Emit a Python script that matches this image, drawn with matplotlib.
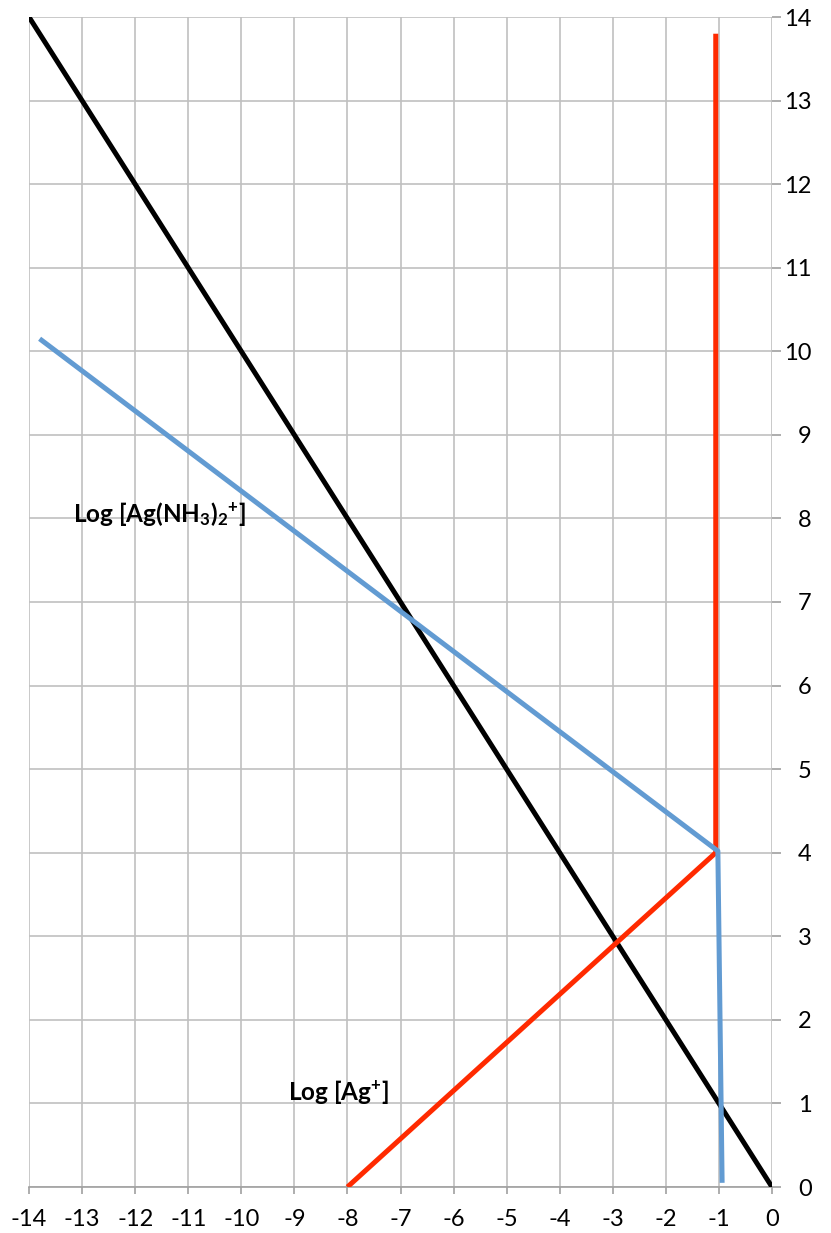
import matplotlib.pyplot as plt

plt.rcParams["font.family"] = ["Lato", "DejaVu Sans"]
plt.rcParams["axes.unicode_minus"] = False

# log [OH-] vs pH style line (slope -1)
oh_x = [-14, 0]
oh_y = [14, 0]

# log [Ag+]
ag_x = [-8, -1.06, -1.06]
ag_y = [0, 4.0, 13.8]

# log [Ag(NH3)2+]
cx_x = [-13.8, -1.02, -0.94]
cx_y = [10.15, 4.02, 0.05]

x_ticks = list(range(-14, 1))
y_ticks = list(range(0, 15))

fig = plt.figure(figsize=(8.31, 12.33), dpi=100)
ax = fig.add_axes([29 / 831, 46 / 1233, 743 / 831, 1170 / 1233])

ax.plot(oh_x, oh_y, color="black", lw=3.6, solid_capstyle="butt", zorder=3)
ax.plot(ag_x, ag_y, color="#ff2a00", lw=3.6, solid_capstyle="butt", zorder=4)
ax.plot(cx_x, cx_y, color="#629bd2", lw=3.6, solid_capstyle="butt", zorder=5)

ax.text(-13.17, 8.05, r"Log [Ag(NH$\mathregular{_3}$)$\mathregular{_2}$$\mathregular{^{+}}$]",
        fontsize=17.5, fontweight="bold", va="center", ha="left")
ax.text(-9.12, 1.14, r"Log [Ag$\mathregular{^{+}}$]",
        fontsize=17.5, fontweight="bold", va="center", ha="left")

ax.set_xlim(-14, 0)
ax.set_ylim(0, 14)
ax.set_xticks(x_ticks)
ax.set_yticks(y_ticks)
ax.yaxis.tick_right()
ax.grid(True, color="#c0c0c0", lw=1.2)
ax.set_axisbelow(True)
for side in ["left", "top", "right"]:
    ax.spines[side].set_visible(False)
ax.spines["bottom"].set_color("#a0a0a0")
ax.spines["bottom"].set_linewidth(1.2)
ax.tick_params(axis="both", colors="#a0a0a0", labelcolor="black",
               direction="out", width=1.2, labelsize=17)
ax.tick_params(axis="x", length=5, pad=11)
ax.tick_params(axis="y", length=6.5, pad=22)
for lbl in ax.get_yticklabels():
    lbl.set_horizontalalignment("right")

fig.savefig("out.png", dpi=100)
